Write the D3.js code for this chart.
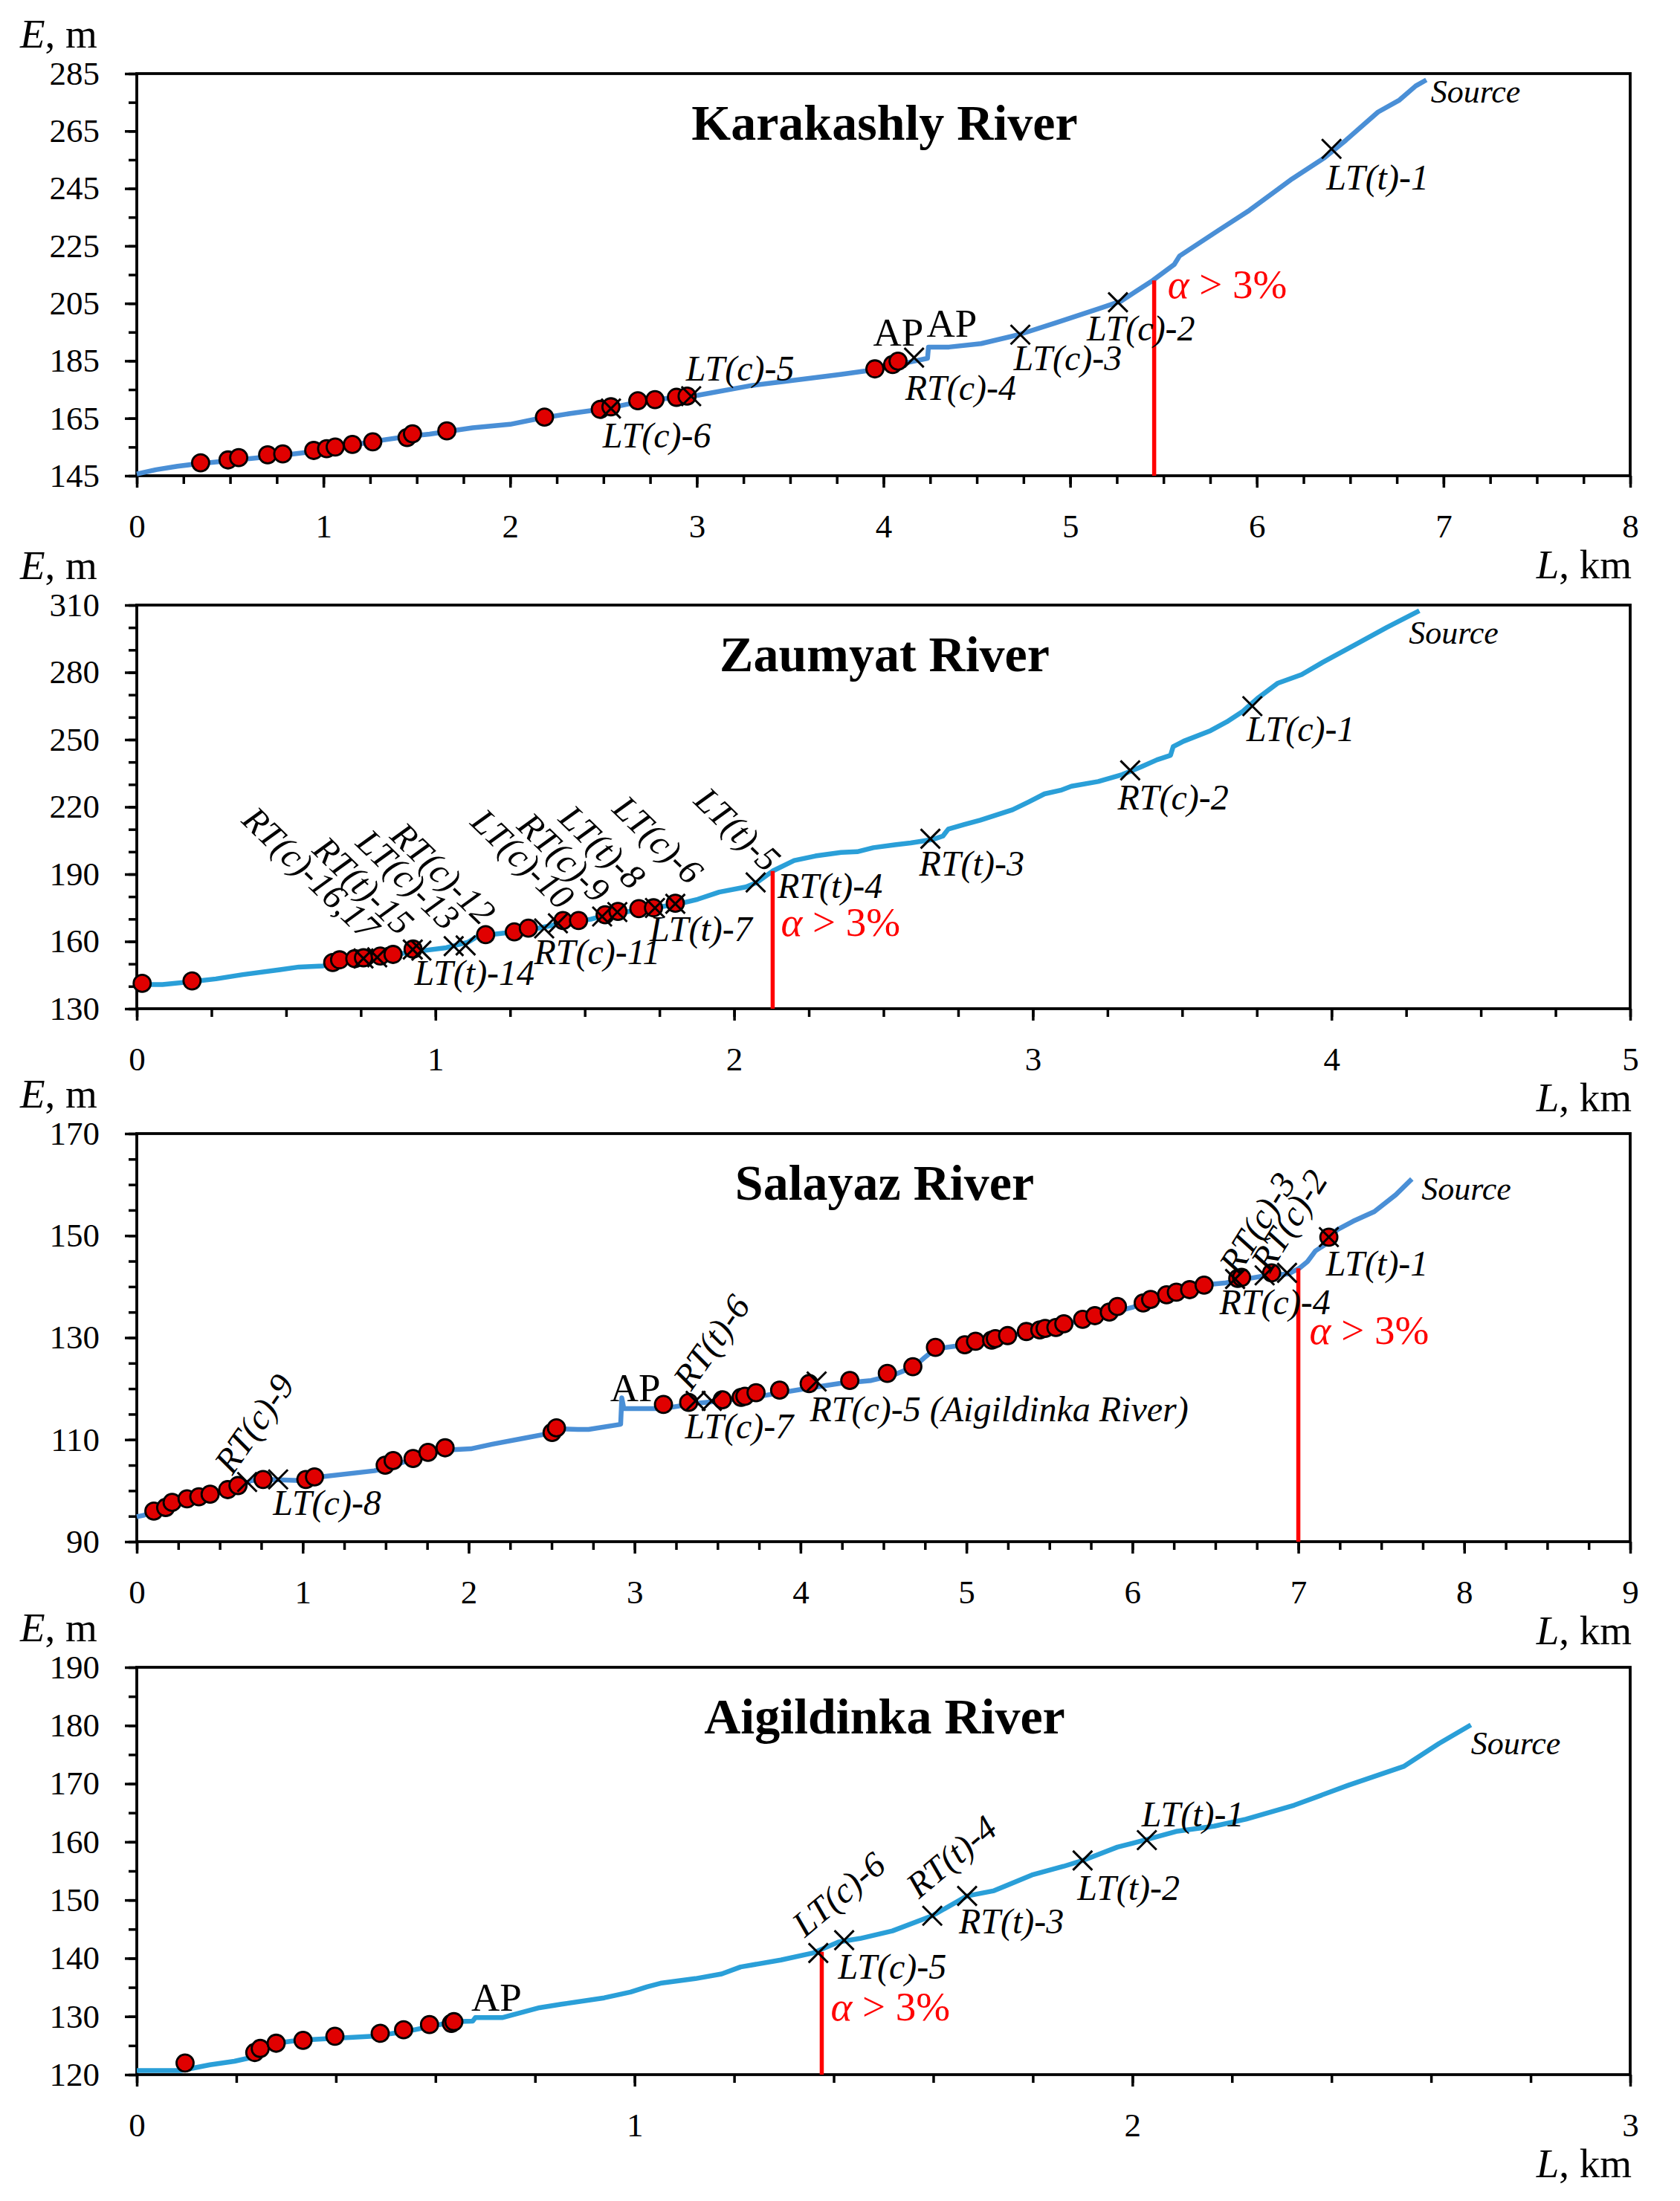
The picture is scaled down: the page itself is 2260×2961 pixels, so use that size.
<!DOCTYPE html>
<html>
<head>
<meta charset="utf-8">
<script src="https://cdn.jsdelivr.net/npm/d3@7"></script>
<style>
  body { margin: 0; background: #fff; }
  text { font-family: "Liberation Serif", "Times New Roman", serif; }
</style>
</head>
<body>
<script>
// longitudinal profiles, E (m) against L (km) from the mouth

// ---- Karakashly River
var karakashlyLine = [[0,145.6],[0.103,147.1],[0.218,148.3],[0.305,149.0],[0.764,152.0],[0.994,153.8],[1.282,157.1],
  [1.454,158.7],[1.569,159.5],[1.799,161.7],[2.0,162.9],[2.144,164.8],[2.316,166.6],[2.517,168.4],[2.718,171.1],
  [3.006,173.0],[3.293,176.4],[3.466,177.8],[3.776,180.3],[3.948,181.9],[4.121,184.3],[4.236,185.9],[4.241,189.8],
  [4.351,189.8],[4.523,191.0],[4.724,194.1],[4.925,198.3],[5.155,203.2],[5.270,205.7],[5.443,213.0],[5.557,218.5],
  [5.586,221.5],[5.787,230.1],[5.960,237.4],[6.190,248.4],[6.362,255.7],[6.477,261.8],[6.649,271.6],[6.764,275.8],
  [6.851,280.7],[6.908,282.8]];
var karakashlyDots = [[0.342,149.5],[0.489,150.5],[0.546,151.3],[0.701,152.3],[0.782,152.6],[0.948,153.8],[1.017,154.4],
  [1.063,155.0],[1.155,155.9],[1.264,156.8],[1.448,158.3],[1.477,159.6],[1.661,160.6],[2.184,165.4],[2.483,168.1],
  [2.540,169.0],[2.684,171.1],[2.776,171.5],[2.891,172.3],[2.948,172.7],[3.954,182.2],[4.049,183.7],[4.078,184.9]];
var karakashlyMarks = [
  {name:"LT(t)-1", L:6.40, E:258.8}, {name:"LT(c)-2", L:5.256, E:205.4}, {name:"LT(c)-3", L:4.733, E:194.1},
  {name:"RT(c)-4", L:4.164, E:186.1}, {name:"LT(c)-5", L:2.97, E:172.7}, {name:"LT(c)-6", L:2.54, E:168.4}];
var karakashlyAP = [[3.944,190.3],[4.231,193.4]];
var karakashlySlope = [5.45, 213.0];

// ---- Zaumyat River
var zaumyatLine = [[0,140.8],[0.086,140.8],[0.185,142.1],[0.265,143.3],[0.355,145.2],[0.480,147.4],[0.543,148.6],
  [0.624,149.1],[0.695,151.1],[0.803,153.0],[0.928,155.4],[1.036,157.2],[1.108,159.6],[1.143,162.4],[1.197,163.2],
  [1.269,164.3],[1.341,165.8],[1.430,168.3],[1.520,169.9],[1.573,171.8],[1.663,173.7],[1.806,176.5],[1.878,178.8],
  [1.950,182.0],[2.039,184.3],[2.075,186.2],[2.129,191.4],[2.201,196.1],[2.272,198.1],[2.358,199.7],[2.412,200.0],
  [2.466,201.8],[2.538,203.1],[2.591,203.9],[2.663,205.4],[2.699,207.0],[2.717,210.1],[2.771,212.2],[2.824,214.1],
  [2.932,218.7],[2.986,222.2],[3.039,225.8],[3.093,227.4],[3.129,229.2],[3.219,231.3],[3.299,234.4],[3.362,237.8],
  [3.416,241.0],[3.461,243.0],[3.470,246.9],[3.505,249.3],[3.595,254.0],[3.649,257.9],[3.703,262.6],[3.756,268.8],
  [3.819,275.1],[3.900,279.0],[3.971,284.5],[4.079,292.3],[4.186,300.1],[4.294,307.5]];
var zaumyatDots = [[0.018,141.3],[0.185,142.4],[0.656,150.6],[0.679,151.8],[0.730,152.3],[0.759,152.7],[0.815,153.5],
  [0.858,154.2],[0.925,156.6],[1.168,163.0],[1.264,164.3],[1.311,165.9],[1.427,169.3],[1.479,169.3],[1.568,171.9],
  [1.611,173.4],[1.681,174.6],[1.730,175.0],[1.803,177.0]];
var zaumyatMarks = [
  {name:"RT(c)-16,17", L:0.759, E:152.4}, {name:"", L:0.805, E:152.9}, {name:"RT(t)-15", L:0.924, E:156.4},
  {name:"LT(c)-13", L:0.953, E:155.9}, {name:"RT(c)-12", L:1.061, E:157.9}, {name:"LT(t)-14", L:1.101, E:158.2},
  {name:"LT(c)-10", L:1.364, E:165.8}, {name:"RT(c)-11", L:1.410, E:168.1}, {name:"RT(c)-9", L:1.558, E:171.1},
  {name:"LT(t)-8", L:1.609, E:173.1}, {name:"LT(t)-7", L:1.735, E:174.9}, {name:"LT(c)-6", L:1.803, E:176.8},
  {name:"LT(t)-5", L:2.072, E:186.3}, {name:"RT(t)-4", L:2.128, E:188.7, hidden:true},
  {name:"RT(t)-3", L:2.657, E:205.8}, {name:"RT(c)-2", L:3.326, E:236.3}, {name:"LT(c)-1", L:3.735, E:264.9}];
var zaumyatAP = [];
var zaumyatSlope = [2.129, 191.4];

// ---- Salayaz River
var salayazLine = [[0,94.9],[0.045,95.2],[0.142,96.5],[0.303,98.1],[0.465,99.3],[0.61,100.6],[0.69,102.0],[0.787,102.2],
  [0.981,102.0],[1.11,102.7],[1.432,103.9],[1.497,104.4],[1.755,107.2],[1.884,108.0],[2.013,108.2],[2.142,109.1],
  [2.335,110.3],[2.497,111.3],[2.561,112.1],[2.658,112.0],[2.723,112.0],[2.916,113.0],[2.923,118.2],[2.935,116.1],
  [3.174,116.1],[3.368,117.1],[3.529,117.6],[3.755,118.5],[4.013,119.9],[4.232,121.0],[4.426,121.6],[4.555,122.6],
  [4.684,124.3],[4.748,126.1],[4.813,127.8],[4.974,128.5],[5.2,130.0],[5.523,132.0],[5.845,134.6],[6.006,136.0],
  [6.168,138.1],[6.426,140.3],[6.555,140.7],[6.684,141.5],[6.813,142.2],[6.942,142.5],[7.006,143.6],[7.055,144.9],
  [7.103,147.0],[7.168,148.4],[7.232,151.1],[7.329,152.8],[7.458,154.7],[7.587,158.0],[7.684,161.1]];
var salayazDots = [[0.103,96.0],[0.174,96.7],[0.213,97.7],[0.303,98.4],[0.374,98.8],[0.442,99.3],[0.548,100.2],
  [0.610,101.0],[0.761,102.2],[1.019,102.2],[1.071,102.7],[1.497,105.0],[1.545,105.9],[1.665,106.3],[1.755,107.5],
  [1.858,108.4],[2.503,111.4],[2.529,112.3],[3.174,116.9],[3.326,117.3],[3.529,117.8],[3.642,118.3],[3.665,118.5],
  [3.732,119.2],[3.874,119.7],[4.052,121.0],[4.297,121.6],[4.523,123.0],[4.677,124.3],[4.813,128.1],[4.990,128.6],
  [5.055,129.3],[5.152,129.5],[5.174,129.8],[5.248,130.4],[5.361,131.2],[5.442,131.5],[5.474,131.8],[5.539,132.0],
  [5.587,132.7],[5.700,133.6],[5.774,134.3],[5.861,135.0],[5.910,136.1],[6.065,136.8],[6.110,137.5],[6.206,138.4],
  [6.265,138.9],[6.345,139.4],[6.432,140.3],[6.635,141.6],[6.658,141.8],[6.839,142.7],[7.184,149.7]];
var salayazMarks = [
  {name:"RT(c)-9", L:0.665, E:101.7}, {name:"LT(c)-8", L:0.852, E:102.2}, {name:"RT(t)-6", L:3.368, E:117.6},
  {name:"LT(c)-7", L:3.465, E:117.6}, {name:"RT(c)-5 (Aigildinka River)", L:4.097, E:121.4},
  {name:"RT(c)-3", L:6.619, E:141.5}, {name:"RT(c)-2", L:6.797, E:142.2}, {name:"RT(c)-4", L:6.932, E:142.7},
  {name:"LT(t)-1", L:7.184, E:149.7}];
var salayazAP = [[2.852,117.5]];
var salayazSlope = [7.0, 143.6];

// ---- Aigildinka River
var aigildinkaLine = [[0,120.7],[0.088,120.7],[0.147,121.7],[0.196,122.3],[0.228,122.9],[0.239,123.5],[0.271,125.3],
  [0.325,125.9],[0.476,126.6],[0.540,127.4],[0.637,129.1],[0.675,129.2],[0.680,129.8],[0.734,129.8],[0.809,131.5],
  [0.853,132.1],[0.939,133.2],[0.992,134.2],[1.025,135.1],[1.052,135.7],[1.122,136.5],[1.175,137.3],[1.213,138.5],
  [1.294,139.7],[1.358,140.9],[1.410,142.8],[1.453,143.4],[1.518,144.7],[1.598,147.3],[1.668,150.7],[1.722,151.6],
  [1.798,154.3],[1.862,155.8],[1.900,156.8],[1.970,159.1],[2.029,160.4],[2.088,161.8],[2.164,162.7],[2.228,163.9],
  [2.325,166.3],[2.433,169.7],[2.546,173.0],[2.616,176.9],[2.680,180.1]];
var aigildinkaDots = [[0.097,122.0],[0.237,123.8],[0.248,124.5],[0.280,125.4],[0.334,125.9],[0.398,126.6],
  [0.489,127.1],[0.536,127.7],[0.588,128.6],[0.632,128.8],[0.637,129.1]];
var aigildinkaMarks = [
  {name:"LT(c)-6", L:1.369, E:140.9}, {name:"LT(c)-5", L:1.421, E:143.1}, {name:"RT(t)-4", L:1.598, E:147.3},
  {name:"RT(t)-3", L:1.668, E:150.7}, {name:"LT(t)-2", L:1.900, E:156.8}, {name:"LT(t)-1", L:2.029, E:160.3}];
var aigildinkaAP = [[0.672,131.0]];
var aigildinkaSlope = [1.376, 141.1];

// page geometry
var svgWidth = 2260, svgHeight = 2961;
var plotLeft = 184, plotRight = 2193;
var serif = '"Liberation Serif", "Times New Roman", serif';

// label offsets from the mark (px), third value = rotation
var panels = [
  {title:"Karakashly River", line:karakashlyLine, dots:karakashlyDots, marks:karakashlyMarks, ap:karakashlyAP,
   slope:karakashlySlope, xMax:8, xStep:0.25, yDomain:[145,285], yStep:20, yMinor:10, top:99, bottom:640,
   color:"#4a8fd6", source:[6,30], alpha:[18,24],
   place:{"LT(t)-1":[-7,55],"LT(c)-2":[-42,51],"LT(c)-3":[-9,48],"RT(c)-4":[-12,57],"LT(c)-5":[-7,-21],"LT(c)-6":[-11,52]}},
  {title:"Zaumyat River", line:zaumyatLine, dots:zaumyatDots, marks:zaumyatMarks, ap:zaumyatAP,
   slope:zaumyatSlope, xMax:5, xStep:0.25, yDomain:[130,310], yStep:30, yMinor:10, top:814, bottom:1357,
   color:"#2a9fd8", source:[-14,44], alpha:[11,87],
   place:{"RT(c)-16,17":[2,-22,44],"RT(t)-15":[-18,-17,44],"LT(c)-13":[32,-25,44],"RT(c)-12":[37,-26,44],
     "LT(t)-14":[-69,53],"LT(c)-10":[21,-23,44],"RT(c)-11":[-32,55],"RT(c)-9":[-9,-16,44],"LT(t)-8":[18,-28,44],
     "LT(t)-7":[-7,44],"LT(c)-6":[18,-24,44],"LT(t)-5":[14,-12,44],"RT(t)-4":[7,28],"RT(t)-3":[-15,50],
     "RT(c)-2":[-17,53],"LT(c)-1":[-8,47]}},
  {title:"Salayaz River", line:salayazLine, dots:salayazDots, marks:salayazMarks, ap:salayazAP,
   slope:salayazSlope, xMax:9, xStep:0.25, yDomain:[90,170], yStep:20, yMinor:5, top:1525, bottom:2074,
   color:"#4a8fd6", source:[13,28], alpha:[15,102],
   place:{"RT(c)-9":[-20,-8,-55],"LT(c)-8":[-7,48],"RT(t)-6":[-6,-12,-55],"LT(c)-7":[-36,50],
     "RT(c)-5 (Aigildinka River)":[-9,53],"RT(c)-3":[4,-3,-58],"RT(c)-2":[7,-2,-58],"RT(c)-4":[-91,56],"LT(t)-1":[-4,52]}},
  {title:"Aigildinka River", line:aigildinkaLine, dots:aigildinkaDots, marks:aigildinkaMarks, ap:aigildinkaAP,
   slope:aigildinkaSlope, xMax:3, xStep:0.2, yDomain:[120,190], yStep:10, yMinor:5, top:2243, bottom:2791,
   color:"#2a9fd8", source:[0,39], alpha:[12,92],
   place:{"LT(c)-6":[-18,-20,-40],"LT(c)-5":[-8,52],"RT(t)-4":[-18,-22,-40],"RT(t)-3":[-11,50],"LT(t)-2":[-7,53],"LT(t)-1":[-7,-19]}}
];

var svg = d3.select("body").append("svg")
  .attr("width", svgWidth)
  .attr("height", svgHeight)
  .style("display", "block");

svg.append("rect").attr("width", svgWidth).attr("height", svgHeight).attr("fill", "#fff");

function steps(a, b, s) {
  var n = Math.round((b - a) / s);
  return d3.range(n + 1).map(function(i) { return +(a + i * s).toFixed(4); });
}

panels.forEach(function(p) {
  var x = d3.scaleLinear().domain([0, p.xMax]).range([plotLeft, plotRight]);
  var y = d3.scaleLinear().domain(p.yDomain).range([p.bottom, p.top]);
  var g = svg.append("g");

  // y axis: minor then major ticks
  g.append("g").attr("transform", `translate(${plotLeft},0)`)
    .call(d3.axisLeft(y).tickValues(steps(p.yDomain[0], p.yDomain[1], p.yMinor)).tickSize(11).tickFormat(""));
  g.append("g").attr("transform", `translate(${plotLeft},0)`)
    .call(d3.axisLeft(y).tickValues(steps(p.yDomain[0], p.yDomain[1], p.yStep)).tickSize(16).tickPadding(34).tickFormat(d3.format("d")));

  // x axis
  g.append("g").attr("transform", `translate(0,${p.bottom})`)
    .call(d3.axisBottom(x).tickValues(steps(0, p.xMax, p.xStep)).tickSize(11).tickFormat(""));
  g.append("g").attr("transform", `translate(0,${p.bottom})`)
    .call(d3.axisBottom(x).tickValues(d3.range(p.xMax + 1)).tickSize(16).tickPadding(35).tickFormat(d3.format("d")));

  g.selectAll(".domain").remove();
  g.selectAll(".tick line").attr("stroke", "#000").attr("stroke-width", 3.5);
  g.selectAll(".tick text")
    .attr("font-family", serif)
    .attr("font-size", 45)
    .attr("fill", "#000");

  // frame
  g.append("rect")
    .attr("x", plotLeft).attr("y", p.top)
    .attr("width", plotRight - plotLeft).attr("height", p.bottom - p.top)
    .attr("fill", "none").attr("stroke", "#000").attr("stroke-width", 3.8);

  // profile
  var line = d3.line().x(d => x(d[0])).y(d => y(d[1]));
  g.append("path").datum(p.line)
    .attr("d", line)
    .attr("fill", "none")
    .attr("stroke", p.color)
    .attr("stroke-width", 6.5)
    .attr("stroke-linejoin", "round");

  // slope > 3% marker
  g.append("line")
    .attr("x1", x(p.slope[0])).attr("x2", x(p.slope[0]))
    .attr("y1", y(p.yDomain[0])).attr("y2", y(p.slope[1]))
    .attr("stroke", "#ff0000").attr("stroke-width", 5.5);

  // dots
  g.selectAll(".dot").data(p.dots).enter().append("circle")
    .attr("cx", d => x(d[0]))
    .attr("cy", d => y(d[1]))
    .attr("r", 11.5)
    .attr("fill", "#e00000")
    .attr("stroke", "#000")
    .attr("stroke-width", 2.8);

  // tributary marks
  g.selectAll(".mark").data(p.marks.filter(d => !d.hidden)).enter().append("path")
    .attr("transform", d => `translate(${x(d.L)},${y(d.E)})`)
    .attr("d", "M-13,-13L13,13M-13,13L13,-13")
    .attr("stroke", "#000")
    .attr("stroke-width", 3)
    .attr("fill", "none");

  // mark labels
  p.marks.forEach(function(d) {
    var pl = p.place[d.name];
    if (!pl || !d.name) return;
    var px = x(d.L) + pl[0], py = y(d.E) + pl[1];
    var rot = pl[2] || 0;
    g.append("text")
      .attr("transform", `translate(${px},${py}) rotate(${rot})`)
      .attr("text-anchor", rot > 0 ? "end" : "start")
      .attr("font-size", 48)
      .attr("font-style", "italic")
      .text(d.name);
  });

  // AP
  p.ap.forEach(function(d) {
    g.append("text")
      .attr("x", x(d[0])).attr("y", y(d[1]))
      .attr("font-size", 53)
      .text("AP");
  });

  // source
  var last = p.line[p.line.length - 1];
  g.append("text")
    .attr("x", x(last[0]) + p.source[0]).attr("y", y(last[1]) + p.source[1])
    .attr("font-size", 44).attr("font-style", "italic")
    .text("Source");

  // alpha > 3%
  var at = g.append("text")
    .attr("x", x(p.slope[0]) + p.alpha[0]).attr("y", y(p.slope[1]) + p.alpha[1])
    .attr("font-size", 55).attr("fill", "#ff0000");
  at.append("tspan").attr("font-style", "italic").text("α");
  at.append("tspan").text(" > 3%");

  // title
  g.append("text")
    .attr("x", 1190).attr("y", p.top + 89)
    .attr("text-anchor", "middle")
    .attr("font-size", 68).attr("font-weight", "bold")
    .text(p.title);

  // axis titles
  var et = g.append("text").attr("x", 27).attr("y", p.top - 35).attr("font-size", 55);
  et.append("tspan").attr("font-style", "italic").text("E");
  et.append("tspan").text(", m");

  var lt = g.append("text").attr("x", 2195).attr("y", p.bottom + 138)
    .attr("text-anchor", "end").attr("font-size", 55);
  lt.append("tspan").attr("font-style", "italic").text("L");
  lt.append("tspan").text(", km");
});
</script>
</body>
</html>
